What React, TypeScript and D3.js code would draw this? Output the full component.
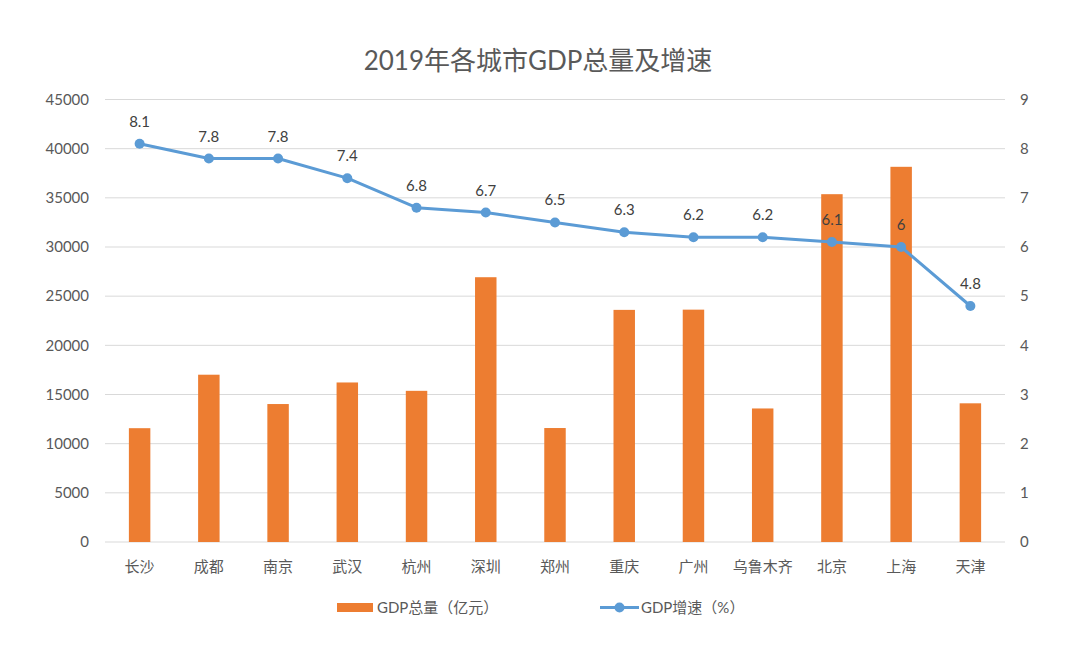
import React from "react";
import * as d3 from "d3";

const cities = ["长沙", "成都", "南京", "武汉", "杭州", "深圳", "郑州", "重庆", "广州", "乌鲁木齐", "北京", "上海", "天津"];
const gdpTotal = [11574, 17013, 14030, 16223, 15373, 26927, 11590, 23606, 23629, 13580, 35371, 38155, 14104];
const gdpGrowth = [8.1, 7.8, 7.8, 7.4, 6.8, 6.7, 6.5, 6.3, 6.2, 6.2, 6.1, 6, 4.8];
const leftTicks = [0, 5000, 10000, 15000, 20000, 25000, 30000, 35000, 40000, 45000];
const rightTicks = [0, 1, 2, 3, 4, 5, 6, 7, 8, 9];

const W = 1080, H = 651;
const L = 105, R = 1005, T = 99.5, B = 542;
const FONT = "Lato, 'Noto Sans CJK SC', sans-serif";
const BAR = "#ED7D31";
const LINE = "#5B9BD5";
const TXT = "#595959";

export default function App() {
  const x = d3.scaleBand<string>().domain(cities).range([L, R]).paddingInner(0).paddingOuter(0);
  const yL = d3.scaleLinear().domain([0, 45000]).range([B, T]);
  const yR = d3.scaleLinear().domain([0, 9]).range([B, T]);
  const bw = x.bandwidth() * 0.31;
  const cx = (c: string) => (x(c) as number) + x.bandwidth() / 2;
  const line = d3.line<number>().x((_, i) => cx(cities[i])).y((d) => yR(d));

  return (
    <svg width={W} height={H} style={{ position: "absolute", left: 0, top: 0, background: "#fff" }} fontFamily={FONT}>
      <rect x={0} y={0} width={W} height={H} fill="#fff" />
      <text x={538} y={70} textAnchor="middle" fontSize={26} fill={TXT}>2019年各城市GDP总量及增速</text>
      {leftTicks.map((t) => (
        <g key={"g" + t}>
          <line x1={L} x2={R} y1={yL(t)} y2={yL(t)} stroke="#D9D9D9" strokeWidth={1} />
          <text x={89} y={yL(t)} dy="0.35em" textAnchor="end" fontSize={15} fill={TXT}>{t}</text>
        </g>
      ))}
      {rightTicks.map((t) => (
        <text key={"r" + t} x={1020} y={yR(t)} dy="0.35em" textAnchor="start" fontSize={15} fill={TXT}>{t}</text>
      ))}
      {cities.map((c, i) => (
        <rect key={"b" + c} x={cx(c) - bw / 2} y={yL(gdpTotal[i])} width={bw} height={B - yL(gdpTotal[i])} fill={BAR} />
      ))}
      {cities.map((c) => (
        <text key={"c" + c} x={cx(c)} y={567} dy="0.35em" textAnchor="middle" fontSize={15} fill={TXT}>{c}</text>
      ))}
      <path d={line(gdpGrowth) || ""} fill="none" stroke={LINE} strokeWidth={3} strokeLinejoin="round" />
      {gdpGrowth.map((v, i) => (
        <circle key={"p" + i} cx={cx(cities[i])} cy={yR(v)} r={5} fill={LINE} />
      ))}
      {gdpGrowth.map((v, i) => (
        <text key={"l" + i} x={cx(cities[i])} y={yR(v) - 17} textAnchor="middle" fontSize={15} fill="#404040">{v}</text>
      ))}
      <rect x={337} y={603} width={36} height={9} fill={BAR} />
      <text x={377} y={608} dy="0.35em" fontSize={15} fill={TXT}>GDP总量（亿元）</text>
      <line x1={600} x2={639} y1={607.5} y2={607.5} stroke={LINE} strokeWidth={3} />
      <circle cx={619.5} cy={607.5} r={5} fill={LINE} />
      <text x={641} y={608} dy="0.35em" fontSize={15} fill={TXT}>GDP增速（%）</text>
    </svg>
  );
}
